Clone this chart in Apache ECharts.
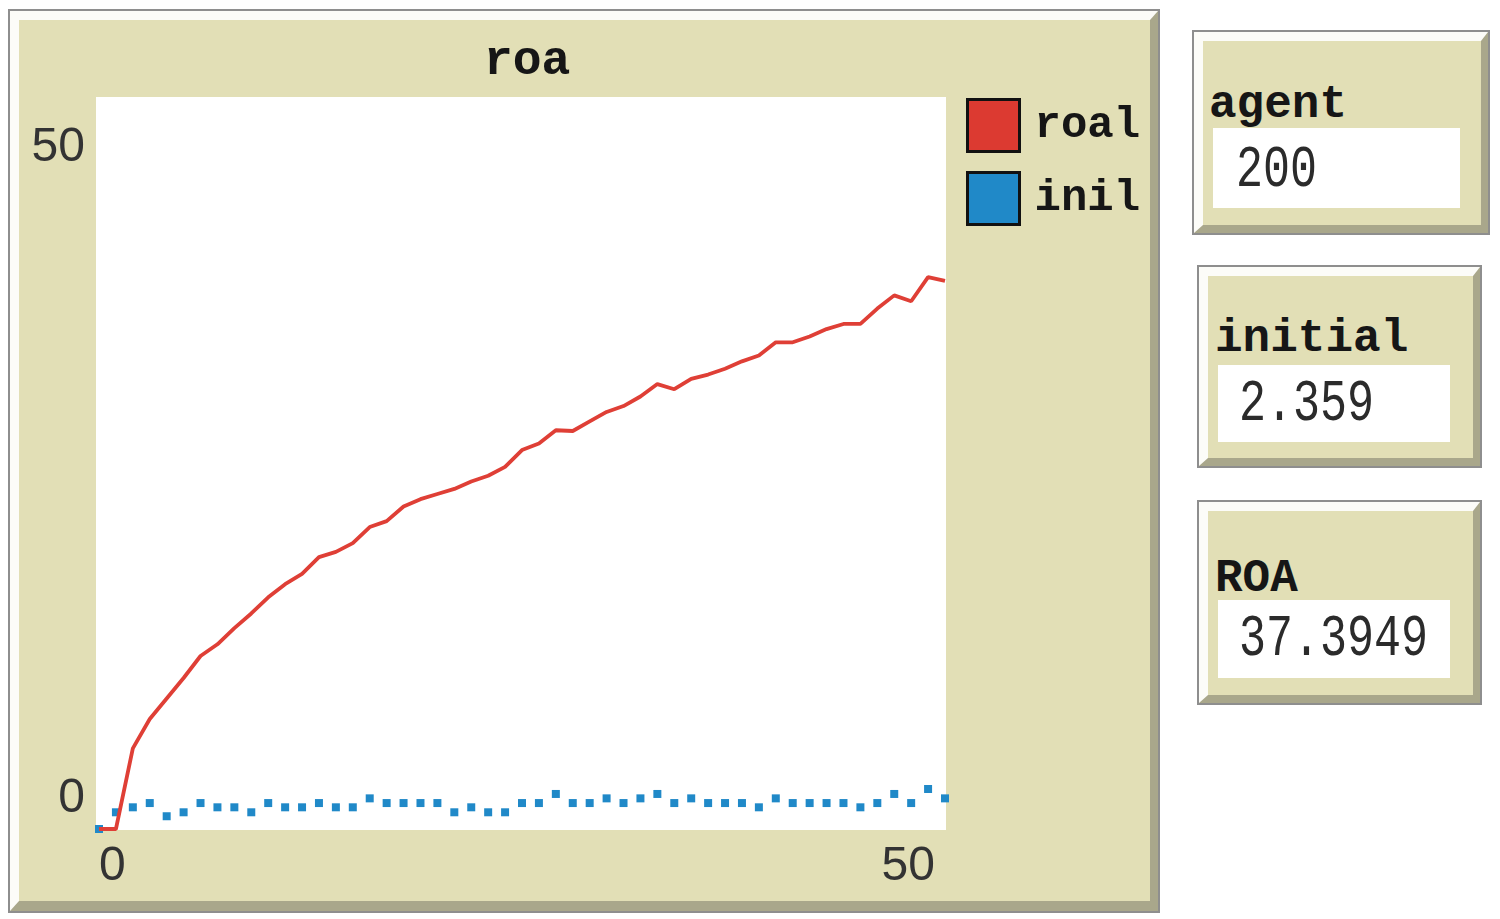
<!DOCTYPE html>
<html>
<head>
<meta charset="utf-8">
<script src="https://cdn.jsdelivr.net/npm/echarts@6/dist/echarts.min.js"></script>
<style>
  html, body { margin: 0; padding: 0; background: #fff; width: 1500px; height: 919px; overflow: hidden; }
  .box { position: absolute; box-sizing: border-box; border: 2px solid #8e8e8e; }
  .bevel { position: absolute; left: 0; top: 0; right: 0; bottom: 0; box-sizing: border-box; border-style: solid;
           border-color: #fcfcf8 #a9a78b #a9a78b #fcfcf8; background: #e2dfb6; }
  .field { position: absolute; background: #fff; }
  .lbl { position: absolute; font-family: 'Liberation Mono', monospace; font-weight: bold; font-size: 46px;
         line-height: 46px; color: #161616; white-space: pre; }
  .val { position: absolute; font-family: 'Liberation Mono', monospace; font-size: 45px; line-height: 45px;
         color: #2b2b2b; transform-origin: 0 0; transform: scaleY(1.33); white-space: pre; }
  #plotArea { position: absolute; left: 96px; top: 97px; width: 850px; height: 733px; background: #fff; }
  #chart { position: absolute; left: 0; top: 0; width: 1500px; height: 919px; }
</style>
</head>
<body>
<div class="box" style="left:8px;top:9px;width:1152px;height:904px;">
  <div class="bevel" style="border-width:9px 8px 10px 9px;"></div>
</div>
<div id="plotArea"></div>
<div id="monitors"></div>
<div id="chart"></div>
<script>
// plot data, one point per tick (0..50)
const seriesNames = ["roal", "inil"];
const roal = [0, 0, 5.5, 7.5, 8.9, 10.3, 11.8, 12.6, 13.7, 14.7, 15.8, 16.7, 17.4, 18.55, 18.9, 19.5, 20.6, 21.0,
  22.0, 22.5, 22.85, 23.2, 23.7, 24.1, 24.7, 25.85, 26.3, 27.2, 27.15, 27.8, 28.45, 28.85, 29.5, 30.35, 30.0,
  30.7, 31.0, 31.4, 31.9, 32.3, 33.2, 33.2, 33.6, 34.1, 34.45, 34.45, 35.5, 36.4, 36.0, 37.65, 37.39];
const inil = [0, 1.14, 1.48, 1.77, 0.87, 1.14, 1.77, 1.48, 1.48, 1.14, 1.77, 1.48, 1.48, 1.77, 1.48, 1.48, 2.09,
  1.77, 1.77, 1.77, 1.77, 1.14, 1.48, 1.14, 1.14, 1.77, 1.77, 2.39, 1.77, 1.77, 2.09, 1.77, 2.09, 2.39, 1.77,
  2.09, 1.77, 1.77, 1.77, 1.48, 2.09, 1.77, 1.77, 1.77, 1.77, 1.48, 1.77, 2.39, 1.77, 2.73, 2.09];
const xRange = [0, 50];
const yRange = [0, 50];

// monitor widgets on the right
const monitorLabels = ["agent", "initial", "ROA"];
const monitorValues = ["200", "2.359", "37.3949"];

function drawMonitors() {
  const boxes = [
    { x: 1192, y: 30, w: 298, h: 205, fx: 1213, fy: 128, fw: 247, fh: 80, ly: 82, vy: 141, lx: 1209, vx: 1236 },
    { x: 1197, y: 265, w: 285, h: 203, fx: 1218, fy: 365, fw: 232, fh: 77, ly: 316, vy: 375, lx: 1215, vx: 1239 },
    { x: 1197, y: 500, w: 285, h: 205, fx: 1218, fy: 600, fw: 232, fh: 78, ly: 556, vy: 610, lx: 1215, vx: 1239 }
  ];
  let html = "";
  boxes.forEach(function (b, i) {
    html += `<div class="box" style="left:${b.x}px;top:${b.y}px;width:${b.w}px;height:${b.h}px;">
               <div class="bevel" style="border-width:9px 7px 8px 9px;"></div></div>
             <div class="field" style="left:${b.fx}px;top:${b.fy}px;width:${b.fw}px;height:${b.fh}px;"></div>
             <div class="lbl" style="left:${b.lx}px;top:${b.ly}px;">${monitorLabels[i]}</div>
             <div class="val" style="left:${b.vx}px;top:${b.vy}px;">${monitorValues[i]}</div>`;
  });
  document.getElementById("monitors").innerHTML = html;
}
drawMonitors();

let chartDom = document.getElementById("chart");
let myChart = echarts.init(chartDom, null, { renderer: "canvas" });

const monoBold = { fontFamily: "Liberation Mono", fontWeight: "bold", fontSize: 46, color: "#161616" };
const tickFont = { fontFamily: "Liberation Sans", fontSize: 48, color: "#333" };

const option = {
  backgroundColor: "transparent",
  animation: false,
  title: {
    text: "roa",
    left: 479,
    top: 33,
    textStyle: Object.assign({}, monoBold, { fontSize: 48 }),
  },
  legend: {
    orient: "vertical",
    left: 966,
    top: 98,
    padding: 0,
    itemWidth: 52,
    itemHeight: 52,
    itemGap: 18,
    icon: "rect",
    itemStyle: { borderColor: "#111", borderWidth: 3, opacity: 1 },
    textStyle: Object.assign({}, monoBold, { fontSize: 44, padding: [0, 0, 0, 10] }),
    data: seriesNames,
  },
  grid: { left: 99, top: 96, width: 846, height: 733, show: false },
  xAxis: {
    type: "value",
    min: xRange[0],
    max: xRange[1],
    interval: 50,
    axisLine: { show: false },
    axisTick: { show: false },
    splitLine: { show: false },
    axisLabel: {
      margin: 14,
      alignMinLabel: "left",
      alignMaxLabel: "right",
      formatter: function (v) {
        return v === xRange[1] ? "{hi|" + v + "}" : "{lo|" + v + "}";
      },
      rich: {
        hi: Object.assign({}, tickFont, { padding: [0, 10, 0, 0] }),
        lo: Object.assign({}, tickFont),
      },
    },
  },
  yAxis: {
    type: "value",
    min: yRange[0],
    max: yRange[1],
    interval: 50,
    axisLine: { show: false },
    axisTick: { show: false },
    splitLine: { show: false },
    axisLabel: {
      margin: 14,
      formatter: function (v) {
        return v === yRange[1] ? "{hi|" + v + "}" : "{lo|" + v + "}";
      },
      rich: {
        hi: Object.assign({}, tickFont, { padding: [104, 0, 0, 0] }),
        lo: Object.assign({}, tickFont, { padding: [0, 0, 60, 0] }),
      },
    },
  },
  series: [
    {
      name: seriesNames[0],
      type: "line",
      data: roal.map(function (v, i) { return [i, v]; }),
      showSymbol: false,
      color: "#dc3a31",
      lineStyle: { width: 3.8, color: "#df3f36" },
      itemStyle: { color: "#dc3a31", opacity: 1 },
    },
    {
      name: seriesNames[1],
      type: "scatter",
      data: inil.map(function (v, i) { return [i, v]; }),
      symbol: "rect",
      symbolSize: 8,
      color: "#2089c8",
      itemStyle: { color: "#2089c8", opacity: 1 },
    },
  ],
};

option && myChart.setOption(option);
</script>
</body>
</html>
